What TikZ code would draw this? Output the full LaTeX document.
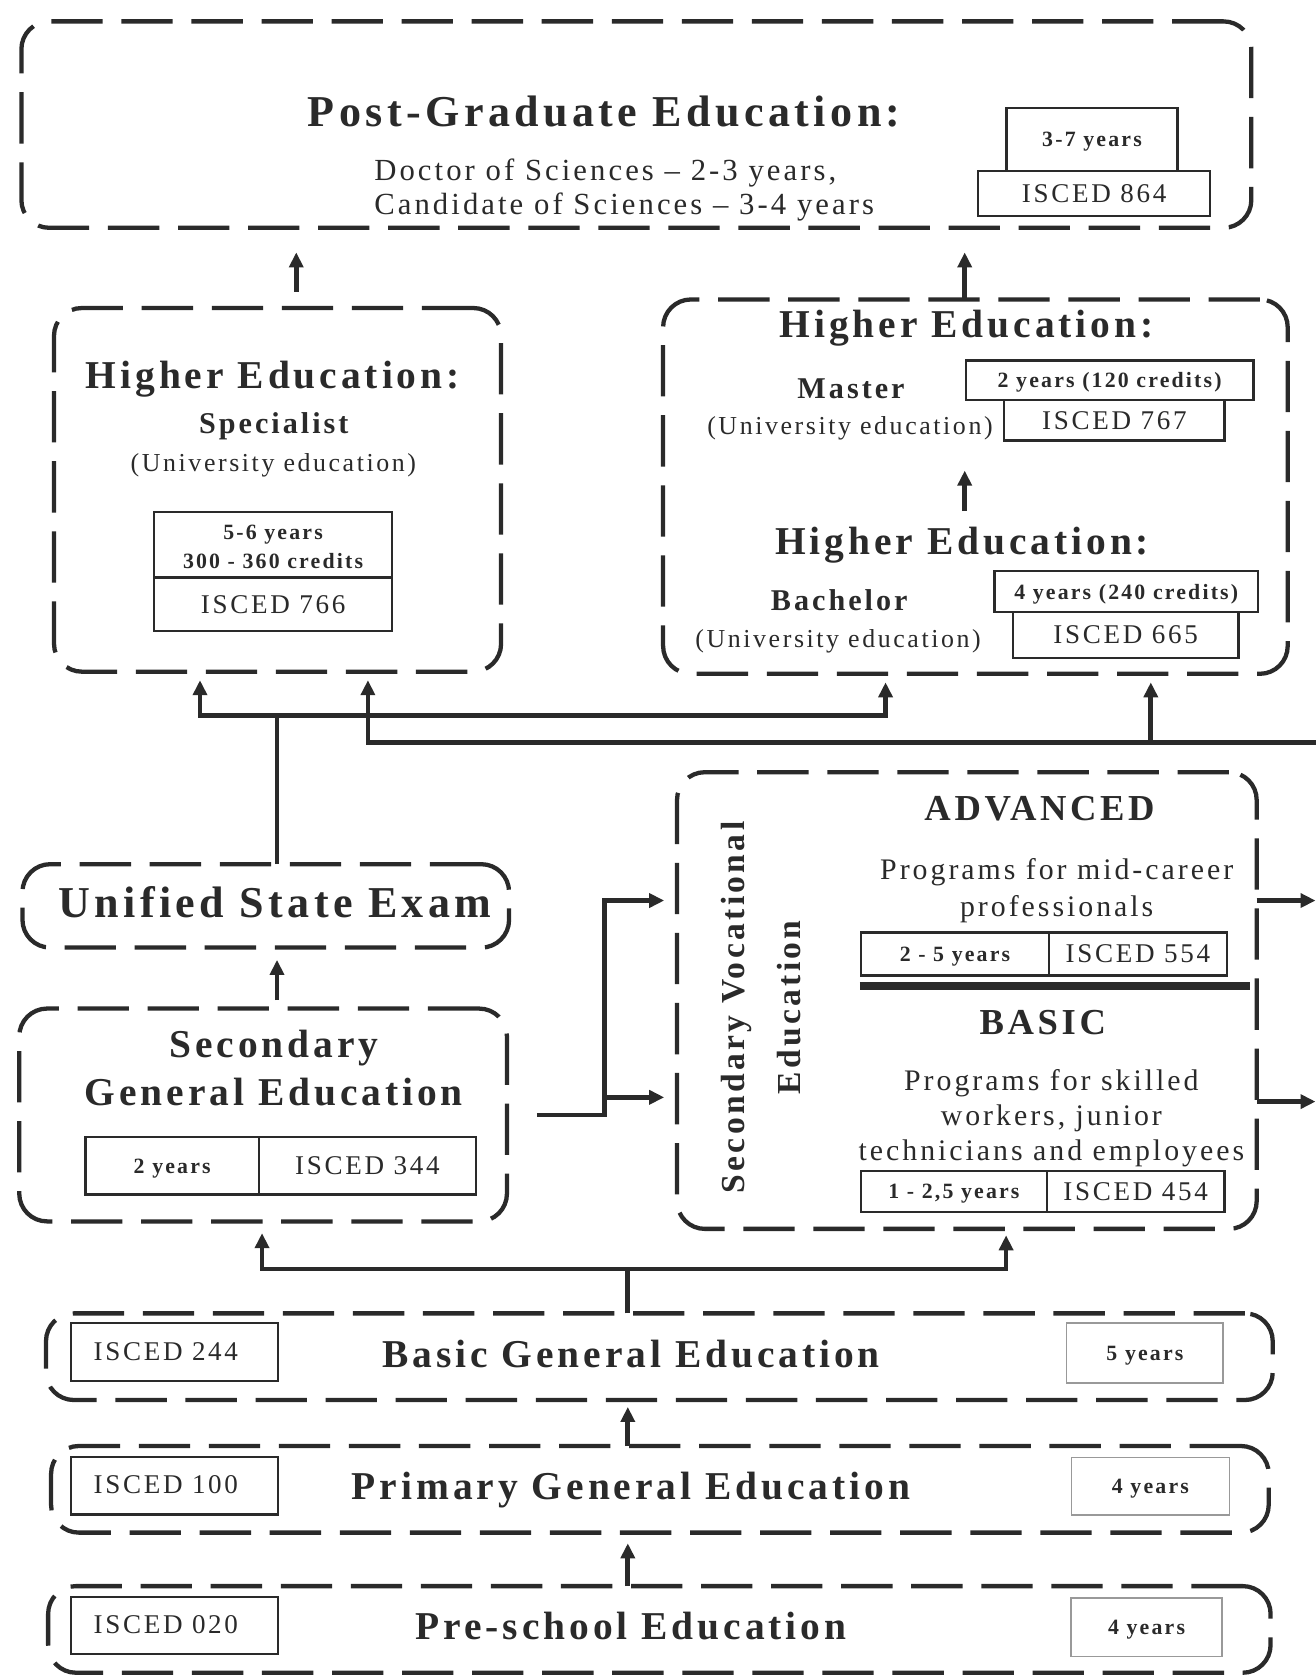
\documentclass[tikz,border=0pt]{standalone}
\usepackage{fontspec}
\setmainfont{Liberation Serif}[LetterSpace=10]
\usetikzlibrary{arrows.meta,calc}
\definecolor{ink}{HTML}{2A2A2A}
\newcommand{\fPG}{\fontsize{20.6pt}{24pt}\selectfont\bfseries}
\newcommand{\fHead}{\fontsize{18.45pt}{22pt}\selectfont\bfseries}
\newcommand{\fAdv}{\fontsize{17.1pt}{20pt}\selectfont\bfseries}
\newcommand{\fRot}{\fontsize{15.7pt}{18pt}\selectfont\bfseries}
\newcommand{\fSub}{\fontsize{14.1pt}{16pt}\selectfont\bfseries}
\newcommand{\fBody}{\fontsize{13.95pt}{16pt}\selectfont}
\newcommand{\fDoc}{\fontsize{14.35pt}{16pt}\selectfont}
\newcommand{\fUni}{\fontsize{12.1pt}{14pt}\selectfont}
\newcommand{\fIsced}{\fontsize{12.65pt}{14pt}\selectfont}
\newcommand{\fSmall}{\fontsize{10.2pt}{12pt}\selectfont\bfseries}
\begin{document}
\begin{tikzpicture}[x=0.5pt,y=-0.5pt,
  >={Triangle[length=7pt,width=6.5pt]},
  dbox/.style={draw=ink, line width=2pt, dash pattern=on 24pt off 8.75pt, rounded corners=13pt, inner sep=0pt, outer sep=0pt},
  cell/.style={draw=ink, line width=1.1pt, inner sep=0pt, outer sep=0pt, text=ink, text depth=0pt},
  lcell/.style={draw=black!40, line width=0.6pt, inner sep=0pt, outer sep=0pt, text=ink, text depth=0pt},
  txt/.style={inner sep=0pt, outer sep=0pt, text=ink, anchor=base},
  conn/.style={draw=ink, line width=2.2pt},
  arr/.style={conn, ->},
  sepline/.style={draw=ink, line width=3.5pt},
  sz/.style 2 args={minimum width=#1*0.5pt, minimum height=#2*0.5pt}]
\useasboundingbox[fill=white] (0,0) rectangle (1230,1568);

% ---------- Post-graduate ----------
\node[dbox, sz={1150}{193}] (pg) at (595,116.5) {};
\node[txt, font=\fPG] (pgt) at (565,118) {Post-Graduate Education:};
\node[txt, anchor=base west, font=\fDoc] (pgd) at (350,168.5) {Doctor of Sciences – 2-3 years,};
\node[txt, anchor=base west, font=\fDoc] (pgc) at (350,201) {Candidate of Sciences – 3-4 years};
\node[cell, font=\fSmall, sz={160}{59}] (pgy) at (1021,130.5) {3-7 years};
\node[cell, font=\fIsced, sz={217}{42}] (pgi) at (1023,181) {ISCED 864};

% ---------- Specialist ----------
\node[dbox, sz={418}{340}] (spec) at (259.5,458) {};
\node[txt, font=\fHead] (spect) at (255,363.5) {Higher Education:};
\node[txt, font=\fSub] (specs) at (256,405) {Specialist};
\node[txt, font=\fUni] (specu) at (255.6,440.6) {(University education)};
\node[cell, sz={222.5}{60.6}] (specy) at (255.3,509.3) {};
\node[txt, font=\fSmall] (specy1) at (255.3,504) {5-6 years};
\node[txt, font=\fSmall] (specy2) at (255.3,532) {300 - 360 credits};
\node[cell, font=\fIsced, sz={222.5}{50.4}] (speci) at (255.3,565) {ISCED 766};

% ---------- Master / Bachelor ----------
\node[dbox, sz={584}{350}] (her) at (912,455) {};
\node[txt, font=\fHead] (hert) at (903.7,316) {Higher Education:};
\node[txt, font=\fSub] (herm) at (795.7,373) {Master};
\node[txt, font=\fUni] (hermu) at (794.7,406) {(University education)};
\node[cell, font=\fSmall, sz={269}{37}] (hermy) at (1037.5,355.5) {2 years (120 credits)};
\node[cell, font=\fIsced, sz={206}{38}] (hermi) at (1042,393) {ISCED 767};
\node[txt, font=\fHead] (herb) at (899.6,518.6) {Higher Education:};
\node[txt, font=\fSub] (herbb) at (784.7,571) {Bachelor};
\node[txt, font=\fUni] (herbu) at (783.6,605) {(University education)};
\node[cell, font=\fSmall, sz={246}{38}] (herby) at (1053,553) {4 years (240 credits)};
\node[cell, font=\fIsced, sz={211}{43}] (herbi) at (1052.5,593.5) {ISCED 665};
\coordinate (mb1) at (902,478);
\coordinate (mb2) at (902,440);
\draw[arr] (mb1) -- (mb2);

% arrows to post-graduate
\draw[arr, shorten <=7.5pt, shorten >=11.5pt] ([xshift=8.75pt]spec.north) -- ([xshift=8.75pt]spec.north |- pg.south);
\draw[arr, shorten >=11.5pt] ([xshift=-5pt]her.north) -- ([xshift=-5pt]her.north |- pg.south);

% ---------- Unified State Exam ----------
\node[dbox, sz={455}{78}] (use) at (248.5,847) {};
\node[txt, font=\fPG] (uset) at (257,858) {Unified State Exam};

% lines to higher education
\coordinate (jA) at (259,669);
\coordinate (aL) at (187,669);
\coordinate (aR) at (828,669);
\draw[conn] (jA |- use.north) -- (jA);
\draw[conn, <->, shorten <=4pt, shorten >=4pt] (aL |- spec.south) -- (aL) -- (aR) -- (aR |- her.south);
\coordinate (bL) at (344,694);
\coordinate (bM) at (1076,694);
\coordinate (bR) at (1230,694);
\draw[conn, <-, shorten <=4pt] (bL |- spec.south) -- (bL) -- (bR);
\draw[arr, shorten >=4pt] (bM) -- (bM |- her.south);

% ---------- Secondary general ----------
\node[dbox, sz={456}{199}] (sge) at (246,1042.5) {};
\node[txt, font=\fHead] (sge1) at (256,989) {Secondary};
\node[txt, font=\fHead] (sge2) at (256,1034) {General Education};
\node[cell, font=\fSmall, sz={162}{54}] (sgey) at (161,1090) {2 years};
\node[cell, font=\fIsced, sz={203}{54}] (sgei) at (343.5,1090) {ISCED 344};
\draw[arr, shorten <=4pt, shorten >=5.75pt] ([xshift=6.5pt]sge.north) -- ([xshift=6.5pt]sge.north |- use.south);

% ---------- Secondary vocational ----------
\node[dbox, sz={542}{427}] (sve) at (904,935.5) {};
\node[txt, font=\fRot, rotate=90] (svr1) at (695.7,942) {Secondary Vocational};
\node[txt, font=\fRot, rotate=90] (svr2) at (748.6,942) {Education};
\node[txt, font=\fAdv] (sva) at (972,767) {ADVANCED};
\node[txt, font=\fBody] (svap1) at (988,822) {Programs for mid-career};
\node[txt, font=\fBody] (svap2) at (988,857) {professionals};
\node[cell, font=\fSmall, sz={175.7}{40}] (svay) at (892.9,892) {2 - 5 years};
\node[cell, font=\fIsced, sz={166.3}{40}] (svai) at (1063.9,892) {ISCED 554};
\coordinate (sepL) at (804,922);
\coordinate (sepR) at (1169,922);
\draw[sepline] (sepL) -- (sepR);
\node[txt, font=\fAdv] (svb) at (975,967) {BASIC};
\node[txt, font=\fBody] (svbp1) at (983,1019.5) {Programs for skilled};
\node[txt, font=\fBody] (svbp2) at (983,1052.6) {workers, junior};
\node[txt, font=\fBody] (svbp3) at (983,1085.5) {technicians and employees};
\node[cell, font=\fSmall, sz={173.7}{38}] (svby) at (891.9,1114) {1 - 2,5 years};
\node[cell, font=\fIsced, sz={166.3}{38}] (svbi) at (1061.9,1114) {ISCED 454};

% split from secondary general to vocational
\coordinate (s0) at (565,1042.5);
\coordinate (s1) at (565,842);
\coordinate (s2) at (565,1026);
\draw[arr, shorten <=14pt, shorten >=6pt] (sge.east) -- (s0) -- (s1) -- (s1 -| sve.west);
\draw[arr, shorten >=6pt] (s2) -- (s2 -| sve.west);

% arrows out of vocational
\coordinate (r1) at (1230,842);
\coordinate (r2) at (1230,1030);
\draw[arr] (r1 -| sve.east) -- (r1);
\draw[arr] (r2 -| sve.east) -- (r2);

% ---------- Basic general ----------
\node[dbox, sz={1147}{81}] (basic) at (616.5,1268.5) {};
\node[cell, sz={193.4}{54}] (basici) at (163.3,1264) {};
\node[txt, font=\fIsced] (basicil) at (155,1272) {ISCED 244};
\node[txt, font=\fHead] (basict) at (590,1279) {Basic General Education};
\node[lcell, font=\fSmall, sz={146}{56}] (basicy) at (1070.5,1265) {5 years};

\coordinate (k) at (587,1186.5);
\coordinate (kL) at (245,1186.5);
\coordinate (kR) at (940.7,1186.5);
\draw[conn] (k |- basic.north) -- (k);
\draw[conn, <->, shorten <=5.5pt, shorten >=3pt] (kL |- sge.south) -- (kL) -- (kR) -- (kR |- sve.south);

% ---------- Primary general ----------
\node[dbox, sz={1138.5}{81}] (prim) at (617,1392.5) {};
\node[cell, sz={193.4}{54}] (primi) at (163.3,1389) {};
\node[txt, font=\fIsced] (primil) at (155,1396) {ISCED 100};
\node[txt, font=\fHead] (primt) at (590,1401.6) {Primary General Education};
\node[lcell, font=\fSmall, sz={148}{54}] (primy) at (1075.6,1389.5) {4 years};
\draw[arr, shorten >=3.25pt] ([xshift=-15pt]prim.north) -- ([xshift=-15pt]prim.north |- basic.south);

% ---------- Pre-school ----------
\node[dbox, sz={1143}{81}] (pre) at (616.5,1523.5) {};
\node[cell, sz={193.4}{53.4}] (prei) at (163.3,1519.7) {};
\node[txt, font=\fIsced] (preil) at (155,1527) {ISCED 020};
\node[txt, font=\fHead] (pret) at (590,1533) {Pre-school Education};
\node[lcell, font=\fSmall, sz={141}{54.6}] (prey) at (1072,1521.3) {4 years};
\draw[arr, shorten >=5pt] ([xshift=-14.75pt]pre.north) -- ([xshift=-14.75pt]pre.north |- prim.south);
\end{tikzpicture}
\end{document}
